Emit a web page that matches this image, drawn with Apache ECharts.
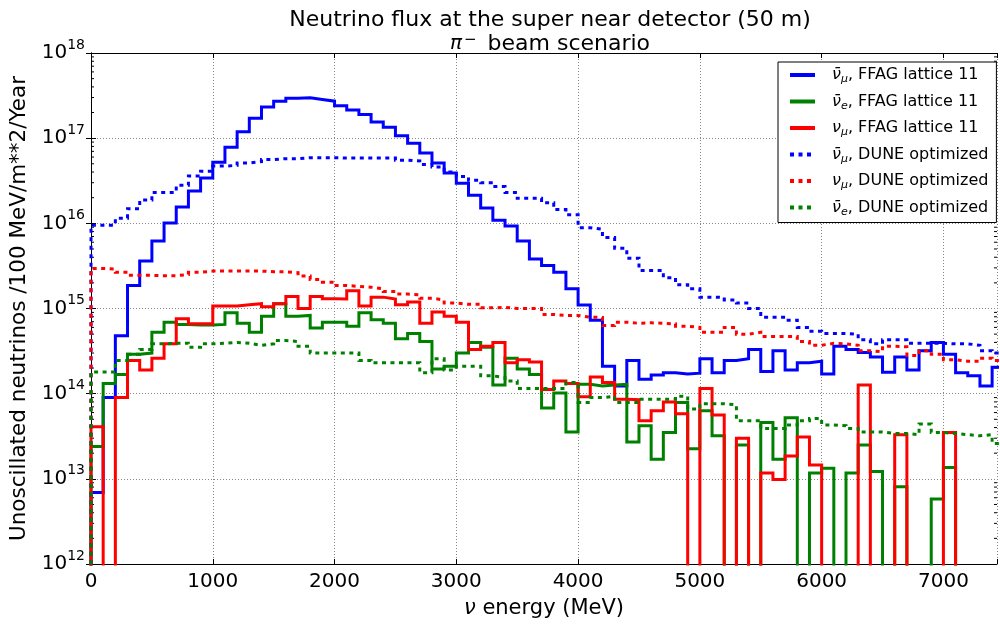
<!DOCTYPE html>
<html><head><meta charset="utf-8">
<script src="https://cdn.jsdelivr.net/npm/echarts@6/dist/echarts.min.js"></script>
<style>html,body{margin:0;padding:0;background:#fff}#c{width:1000px;height:624px}</style>
</head><body><div id="c"></div>
<script>
// Bin width 100 MeV, bins start at 0 MeV
const BIN_WIDTH = 100;
const X_MAX = 7440;
const X_TICKS = [0, 1000, 2000, 3000, 4000, 5000, 6000, 7000];
const Y_TICKS = [1e12, 1e13, 1e14, 1e15, 1e16, 1e17, 1e18];

// nu_mu-bar, FFAG lattice 11 (solid blue)
const nubarMuFFAG = [6.9e12,9.0e13,4.8e14,1.86e15,3.6e15,6.2e15,1.01e16,1.55e16,2.4e16,3.4e16,
 5.2e16,7.8e16,1.19e17,1.71e17,2.32e17,2.72e17,2.95e17,2.99e17,2.85e17,2.72e17,
 2.4e17,2.14e17,1.9e17,1.55e17,1.34e17,1.07e17,8.7e16,6.7e16,5.1e16,3.9e16,
 2.95e16,2.14e16,1.51e16,1.09e16,9.3e15,6.2e15,3.8e15,3.2e15,2.66e15,1.7e15,
 1.1e15,7.3e14,2.1e14,1.23e14,2.45e14,1.48e14,1.66e14,1.76e14,1.7e14,1.74e14,
 2.57e14,1.76e14,2.45e14,2.57e14,3.3e14,1.82e14,3.2e14,1.89e14,2.3e14,2.4e14,
 1.7e14,3.6e14,3.3e14,3.05e14,2.7e14,1.78e14,2.7e14,1.9e14,3.2e14,4.0e14,
 2.9e14,1.76e14,1.62e14,1.23e14,2.04e14];
// nu_e-bar, FFAG lattice 11 (solid green)
const nubarEFFAG = [2.4e13,1.32e14,1.68e14,2.9e14,3.0e14,5.25e14,6.9e14,6.5e14,6.4e14,6.4e14,
 6.5e14,8.9e14,6.7e14,5.25e14,8.1e14,1.14e15,8.1e14,8.3e14,5.9e14,6.9e14,
 6.9e14,6.2e14,8.9e14,7.4e14,6.7e14,4.4e14,5.1e14,4.1e14,1.95e14,2.1e14,
 3.0e14,4.0e14,3.5e14,1.26e14,2.6e14,1.95e14,1.68e14,6.8e13,1.02e14,3.55e13,
 1.29e14,1.23e14,1.26e14,1.29e14,2.7e13,4.2e13,1.7e13,3.5e13,7.9e13,2.26e13,
 6.3e13,3.2e13,0,2.5e13,0,4.6e13,1.7e13,5.2e13,0,1.17e13,
 1.33e13,0,1.17e13,2.5e13,1.22e13,0,8.1e12,0,0,5.8e12,
 1.36e13,0,0,0,0];
// nu_mu, FFAG lattice 11 (solid red)
const nuMuFFAG = [4.1e13,0,9.0e13,2.45e14,1.89e14,2.6e14,3.85e14,7.6e14,6.6e14,6.6e14,
 1.07e15,1.07e15,1.11e15,1.14e15,1.05e15,1.14e15,1.38e15,1.0e15,1.38e15,1.3e15,
 1.29e15,1.62e15,1.07e15,1.36e15,1.29e15,1.11e15,1.19e15,6.7e14,9.1e14,8.1e14,
 6.9e14,3.3e14,3.6e14,4.0e14,2.3e14,2.5e14,2.35e14,1.12e14,1.41e14,1.32e14,
 9.2e13,1.57e14,1.35e14,8.6e13,8.5e13,4.8e13,6.3e13,8.0e13,5.8e13,0,
 1.15e14,5.6e13,0,3.0e13,0,1.17e13,9.8e12,1.86e13,3.1e13,1.45e13,
 0,0,0,1.26e14,0,0,3.3e13,0,0,0,
 3.5e13,0,0,0,0];
// nu_mu-bar, DUNE optimized (dotted blue)
const nubarMuDUNE = [9.5e15,9.5e15,1.15e16,1.48e16,1.88e16,2.3e16,2.3e16,2.8e16,3.6e16,4.1e16,
 4.7e16,4.8e16,5.1e16,5.3e16,5.6e16,5.75e16,5.75e16,5.9e16,5.9e16,5.9e16,
 5.85e16,5.85e16,5.85e16,5.85e16,5.85e16,5.5e16,5.4e16,4.9e16,4.6e16,4.0e16,
 3.55e16,3.2e16,3.0e16,2.7e16,2.3e16,1.97e16,1.97e16,1.74e16,1.45e16,1.26e16,
 8.9e15,8.5e15,6.8e15,5.1e15,3.9e15,2.8e15,2.8e15,2.3e15,1.9e15,1.7e15,
 1.36e15,1.35e15,1.26e15,1.16e15,1.0e15,7.9e14,7.9e14,7.3e14,6.0e14,5.4e14,
 5.1e14,5.1e14,5.0e14,4.3e14,3.85e14,4.3e14,4.3e14,3.9e14,3.9e14,3.9e14,
 3.85e14,3.85e14,3.7e14,3.2e14,3.0e14];
// nu_mu, DUNE optimized (dotted red)
const nuMuDUNE = [2.95e15,2.9e15,2.66e15,2.45e15,2.45e15,2.43e15,2.43e15,2.5e15,2.66e15,2.75e15,
 2.75e15,2.75e15,2.75e15,2.75e15,2.7e15,2.7e15,2.63e15,2.4e15,2.19e15,2.04e15,
 1.86e15,1.82e15,1.78e15,1.7e15,1.58e15,1.48e15,1.45e15,1.32e15,1.26e15,1.16e15,
 1.12e15,1.12e15,1.02e15,1.03e15,1.0e15,1.0e15,1.0e15,8.5e14,8.3e14,8.3e14,
 7.9e14,7.85e14,6.3e14,6.9e14,6.7e14,6.8e14,6.7e14,6.6e14,6.2e14,6.0e14,
 5.25e14,5.25e14,6.0e14,5.0e14,5.25e14,4.7e14,4.7e14,4.7e14,4.1e14,3.7e14,
 3.9e14,3.85e14,3.7e14,3.2e14,3.1e14,3.6e14,3.55e14,2.8e14,3.2e14,2.9e14,
 2.5e14,2.4e14,2.4e14,2.6e14,2.45e14];
// nu_e-bar, DUNE optimized (dotted green)
const nubarEDUNE = [1.8e14,1.8e14,2.45e14,2.9e14,3.3e14,3.85e14,3.9e14,3.9e14,3.5e14,3.85e14,
 3.9e14,4.0e14,3.9e14,3.7e14,3.85e14,4.2e14,4.1e14,3.6e14,3.0e14,3.0e14,
 3.0e14,3.0e14,2.45e14,2.3e14,2.3e14,2.3e14,2.3e14,1.76e14,2.57e14,1.9e14,
 2.1e14,2.1e14,1.62e14,1.55e14,1.41e14,1.15e14,1.15e14,1.15e14,1.15e14,1.35e14,
 7.9e13,9.0e13,9.3e13,7.9e13,7.9e13,8.6e13,8.6e13,8.6e13,9.3e13,6.6e13,
 7.6e13,7.6e13,7.4e13,4.8e13,4.8e13,3.9e13,3.9e13,4.3e13,4.8e13,5.1e13,
 4.3e13,4.2e13,3.9e13,3.55e13,3.55e13,3.4e13,3.4e13,3.3e13,4.4e13,3.5e13,
 3.4e13,3.3e13,3.2e13,3.3e13,2.6e13];

const FLOOR = 1e10; // empty bins: drawn below the axis minimum (clipped)
function stepPoints(vals) {
  const pts = [[0, FLOOR]];
  vals.forEach((v, k) => {
    const y = v > 0 ? v : FLOOR;
    pts.push([k * BIN_WIDTH, y], [(k + 1) * BIN_WIDTH, y]);
  });
  pts.push([vals.length * BIN_WIDTH, FLOOR]);
  return pts;
}
// minor tick positions of the log axis
const MINOR_TICKS = [];
for (let e = 12; e < 18; e++) for (let m = 2; m <= 9; m++) MINOR_TICKS.push(m * Math.pow(10, e));

const FONT = 'DejaVu Sans';
const DOT = [4, 4.5];
const seriesDefs = [
  {name: 'nbmF', data: nubarMuFFAG, color: '#0000ff', type: 'solid'},
  {name: 'nbeF', data: nubarEFFAG, color: '#008000', type: 'solid'},
  {name: 'nmF', data: nuMuFFAG, color: '#ff0000', type: 'solid'},
  {name: 'nbmD', data: nubarMuDUNE, color: '#0000ff', type: DOT},
  {name: 'nmD', data: nuMuDUNE, color: '#ff0000', type: DOT},
  {name: 'nbeD', data: nubarEDUNE, color: '#008000', type: DOT}
];
const legendText = {
  nbmF: '{nu|ν̄}{sub|μ}{t|, FFAG lattice 11}',
  nbeF: '{nu|ν̄}{sub|e}{t|, FFAG lattice 11}',
  nmF: '{nu|ν}{sub|μ}{t|, FFAG lattice 11}',
  nbmD: '{nu|ν̄}{sub|μ}{t|, DUNE optimized}',
  nmD: '{nu|ν}{sub|μ}{t|, DUNE optimized}',
  nbeD: '{nu|ν̄}{sub|e}{t|, DUNE optimized}'
};

const series = seriesDefs.map(d => ({
  name: d.name, type: 'line', data: stepPoints(d.data), showSymbol: false, symbol: 'none',
  clip: true, animation: false, color: d.color,
  lineStyle: {color: d.color, width: 3, type: d.type, cap: 'butt', join: 'miter'}
}));
series.push({
  type: 'custom', silent: true, animation: false, clip: false,
  data: MINOR_TICKS.map(v => [0, v]),
  renderItem: (params, api) => {
    const cs = params.coordSys;
    const y = api.coord([0, api.value(1)])[1];
    const st = {stroke: '#000', lineWidth: 1};
    return {type: 'group', children: [
      {type: 'line', shape: {x1: cs.x, y1: y, x2: cs.x + 3, y2: y}, style: st},
      {type: 'line', shape: {x1: cs.x + cs.width - 3, y1: y, x2: cs.x + cs.width, y2: y}, style: st}
    ]};
  }
});

const axisBlack = {lineStyle: {color: '#000', width: 1}};
const gridLine = {show: true, lineStyle: {color: '#888', width: 1, type: [1, 2]}};
const option = {
  backgroundColor: '#fff',
  animation: false,
  textStyle: {fontFamily: FONT},
  title: [
    {text: 'Neutrino flux at the super near detector (50 m)', left: 545, top: 4, textAlign: 'center',
     textStyle: {fontFamily: FONT, fontSize: 22, fontWeight: 'normal', color: '#000'}},
    {text: '{pi|π}{sup|−}{t| beam scenario}', left: 545, top: 28, textAlign: 'center',
     textStyle: {fontFamily: FONT, fontSize: 22, fontWeight: 'normal', color: '#000',
       rich: {pi: {fontFamily: FONT, fontSize: 20, fontStyle: 'italic', color: '#000'},
              sup: {fontFamily: FONT, fontSize: 15, verticalAlign: 'top', color: '#000', padding: [0, 4, 0, 2]},
              t: {fontFamily: FONT, fontSize: 22, color: '#000'}}}}
  ],
  grid: {left: 91, right: 2, top: 53, bottom: 54, containLabel: false},
  legend: {
    left: 778, top: 62, orient: 'vertical', itemWidth: 25, itemHeight: 10, itemGap: 8.5,
    padding: [5, 8, 5, 10], backgroundColor: '#fff', borderColor: '#000', borderWidth: 1, borderRadius: 0,
    data: seriesDefs.map(d => d.name),
    lineStyle: {width: 4},
    itemStyle: {opacity: 0, borderWidth: 0},
    formatter: n => legendText[n],
    textStyle: {fontFamily: FONT, fontSize: 16, color: '#000',
      rich: {nu: {fontFamily: FONT, fontSize: 16, fontStyle: 'italic', padding: [0, 0, 0, 12], lineHeight: 20},
             sub: {fontFamily: FONT, fontSize: 11, fontStyle: 'italic', verticalAlign: 'bottom', lineHeight: 20},
             t: {fontFamily: FONT, fontSize: 16, lineHeight: 20}}}
  },
  xAxis: [
    {type: 'value', min: 0, max: X_MAX, interval: 1000, position: 'bottom',
     axisLine: axisBlack, axisTick: {inside: true, length: 5, lineStyle: {color: '#000'}},
     axisLabel: {color: '#000', fontSize: 20, fontFamily: FONT, margin: 8,
       formatter: v => X_TICKS.includes(v) ? String(v) : ''},
     splitLine: gridLine,
     name: '{i|ν}{t| energy (MeV)}', nameLocation: 'middle', nameGap: 34,
     nameTextStyle: {fontFamily: FONT, fontSize: 21, color: '#000',
       rich: {i: {fontFamily: FONT, fontSize: 21, fontStyle: 'italic'}, t: {fontFamily: FONT, fontSize: 21}}}},
    {type: 'value', min: 0, max: X_MAX, interval: 1000, position: 'top',
     axisLine: axisBlack, axisTick: {inside: true, length: 5, lineStyle: {color: '#000'}},
     axisLabel: {show: false}, splitLine: {show: false}}
  ],
  yAxis: [
    {type: 'log', logBase: 10, min: Y_TICKS[0], max: Y_TICKS[Y_TICKS.length - 1], position: 'left',
     axisLine: axisBlack, axisTick: {inside: true, length: 5, lineStyle: {color: '#000'}},
     axisLabel: {color: '#000', margin: 6, fontFamily: FONT,
       formatter: v => '{b|10}{e|' + Math.round(Math.log10(v)) + '}',
       rich: {b: {fontFamily: FONT, fontSize: 20, lineHeight: 30, color: '#000'},
              e: {fontFamily: FONT, fontSize: 14, verticalAlign: 'top', color: '#000'}}},
     splitLine: gridLine,
     name: 'Unoscillated neutrinos /100 MeV/m**2/Year', nameLocation: 'middle', nameRotate: 90, nameGap: 60,
     nameTextStyle: {fontFamily: FONT, fontSize: 21.5, color: '#000'}},
    {type: 'log', logBase: 10, min: Y_TICKS[0], max: Y_TICKS[Y_TICKS.length - 1], position: 'right',
     axisLine: axisBlack, axisTick: {inside: true, length: 5, lineStyle: {color: '#000'}},
     axisLabel: {show: false}, splitLine: {show: false}}
  ],
  series: series
};
const chart = echarts.init(document.getElementById('c'), null, {renderer: 'canvas'});
chart.setOption(option);
</script></body></html>
